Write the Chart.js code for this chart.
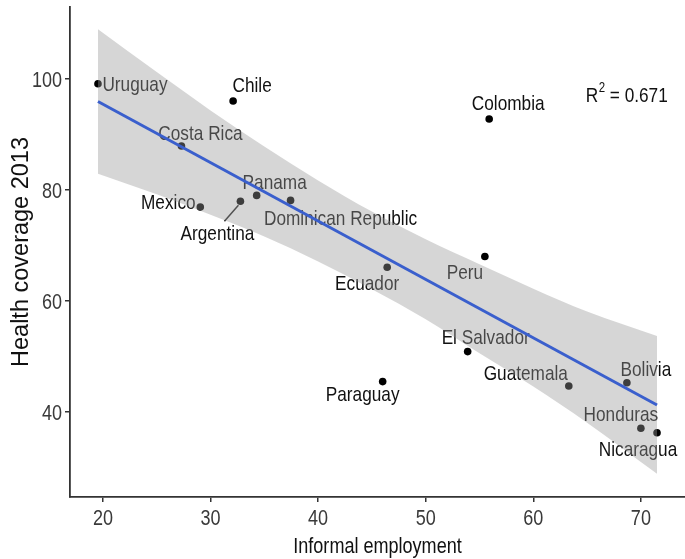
<!DOCTYPE html>
<html>
<head>
<meta charset="utf-8">
<script src="https://cdn.jsdelivr.net/npm/chart.js@4.4.1/dist/chart.umd.min.js"></script>
<style>
html, body { margin: 0; padding: 0; background: #fff; }
</style>
</head>
<body>
<canvas id="chart" width="685" height="559"></canvas>
<script>
const countries = ['Uruguay', 'Chile', 'Colombia', 'Costa Rica', 'Mexico', 'Argentina', 'Panama',
    'Dominican Republic', 'Ecuador', 'Peru', 'El Salvador', 'Paraguay', 'Guatemala', 'Bolivia',
    'Honduras', 'Nicaragua'];
const informal = [19.54, 32.1, 55.9, 27.3, 29.05, 32.78, 34.29, 37.44, 46.42, 55.5, 53.9, 46.0, 63.3, 68.7, 70.0, 71.5];
const coverage = [99.1, 96.0, 92.75, 87.9, 76.9, 77.95, 79.0, 78.1, 66.07, 68.0, 50.9, 45.5, 44.7, 45.3, 37.1, 36.3];

// fitted line (ends) and confidence band
const fitX = [19.54, 71.5];
const fitY = [95.9, 41.3];
const bandX = [19.54, 25, 30, 35, 40, 45, 50, 55, 60, 65, 71.5];
const bandUpper = [108.9, 101.2, 94.3, 87.8, 81.7, 76.1, 71.1, 66.6, 62.2, 58.1, 53.7];
const bandLower = [82.9, 79.2, 75.5, 71.6, 67.1, 62.1, 56.7, 50.6, 44.6, 38.1, 28.9];

const xTicks = [20, 30, 40, 50, 60, 70];
const yTicks = [40, 60, 80, 100];
const xTitle = 'Informal employment';
const yTitle = 'Health coverage 2013';
const r2Value = '0.671';

const FONT = '"Liberation Sans", Arial, sans-serif';
const SQUEEZE = 0.82; // the original type is tall and narrow

// where each name sits, pixel offset of the text centre from its point
const labelOffsets = [
    [37, 2], [19, -15], [19, -15], [19, -12], [-32, -4], [-23, 33], [18, -12],
    [50, 19], [-20, 17], [-20, 17], [18, -13], [-20, 14], [-43, -12], [19, -13],
    [-20, -13], [-19, 17]
];
const argentinaSegment = [[-2, 4], [-16, 20]];
const r2Pos = { x: 68.66, y: 97.3 };

function squeezeText(ctx, text, x, y, size, color, align, baseline, rotate, squeeze) {
    ctx.save();
    ctx.translate(x, y);
    if (rotate) ctx.rotate(rotate);
    const sq = squeeze === undefined ? SQUEEZE : squeeze;
    ctx.scale(sq, 1);
    ctx.font = size + 'px ' + FONT;
    ctx.fillStyle = color;
    ctx.textAlign = align;
    ctx.textBaseline = baseline;
    ctx.fillText(text, 0, 0);
    ctx.restore();
}

function textWidth(ctx, text, size) {
    ctx.font = size + 'px ' + FONT;
    return ctx.measureText(text).width * SQUEEZE;
}

const labelPlugin = {
    id: 'pointLabels',
    beforeDatasetsDraw(chart) {
        const ctx = chart.ctx;
        const xs = chart.scales.x;
        const ys = chart.scales.y;
        countries.forEach((name, i) => {
            const px = xs.getPixelForValue(informal[i]);
            const py = ys.getPixelForValue(coverage[i]);
            squeezeText(ctx, name, px + labelOffsets[i][0], py + labelOffsets[i][1], 21, '#111', 'center', 'middle');
        });
        // connector for Argentina
        const ai = countries.indexOf('Argentina');
        const ax = xs.getPixelForValue(informal[ai]);
        const ay = ys.getPixelForValue(coverage[ai]);
        ctx.save();
        ctx.strokeStyle = '#222';
        ctx.lineWidth = 1.5;
        ctx.beginPath();
        ctx.moveTo(ax + argentinaSegment[0][0], ay + argentinaSegment[0][1]);
        ctx.lineTo(ax + argentinaSegment[1][0], ay + argentinaSegment[1][1]);
        ctx.stroke();
        ctx.restore();
    },
    afterDraw(chart) {
        const ctx = chart.ctx;
        const xs = chart.scales.x;
        const ys = chart.scales.y;
        const area = chart.chartArea;

        // tick labels
        xTicks.forEach(v => {
            squeezeText(ctx, String(v), xs.getPixelForValue(v), area.bottom + 28, 22, '#3a3a3a', 'center', 'alphabetic');
        });
        yTicks.forEach(v => {
            squeezeText(ctx, String(v), area.left - 8, ys.getPixelForValue(v) + 8, 22, '#3a3a3a', 'right', 'alphabetic');
        });

        // axis titles
        squeezeText(ctx, xTitle, (area.left + area.right) / 2, 553, 22, '#111', 'center', 'alphabetic');
        squeezeText(ctx, yTitle, 28, (area.top + area.bottom) / 2, 23.5, '#111', 'center', 'alphabetic', -Math.PI / 2, 1);

        // R squared note
        const cx = xs.getPixelForValue(r2Pos.x);
        const base = ys.getPixelForValue(r2Pos.y) + 8;
        const rest = ' = ' + r2Value;
        const wR = textWidth(ctx, 'R', 21);
        const w2 = textWidth(ctx, '2', 14);
        const wRest = textWidth(ctx, rest, 21);
        let x = cx - (wR + w2 + wRest) / 2;
        squeezeText(ctx, 'R', x, base, 21, '#111', 'left', 'alphabetic');
        x += wR + 0.5;
        squeezeText(ctx, '2', x, base - 10, 14, '#111', 'left', 'alphabetic');
        x += w2;
        squeezeText(ctx, rest, x, base, 21, '#111', 'left', 'alphabetic');
    }
};

new Chart(document.getElementById('chart'), {
    type: 'scatter',
    data: {
        datasets: [{
            label: 'countries',
            data: informal.map((x, i) => ({ x: x, y: coverage[i] })),
            backgroundColor: '#000',
            borderWidth: 0,
            pointRadius: 3.8,
            order: 3
        }, {
            label: 'upper',
            type: 'line',
            data: bandX.map((x, i) => ({ x: x, y: bandUpper[i] })),
            borderWidth: 0,
            pointRadius: 0,
            fill: '+1',
            backgroundColor: 'rgba(153, 153, 153, 0.4)',
            cubicInterpolationMode: 'monotone',
            order: 2
        }, {
            label: 'lower',
            type: 'line',
            data: bandX.map((x, i) => ({ x: x, y: bandLower[i] })),
            borderWidth: 0,
            pointRadius: 0,
            fill: false,
            cubicInterpolationMode: 'monotone',
            order: 2
        }, {
            label: 'fit',
            type: 'line',
            data: fitX.map((x, i) => ({ x: x, y: fitY[i] })),
            borderColor: '#3a5fcd',
            borderWidth: 3,
            pointRadius: 0,
            fill: false,
            order: 1
        }]
    },
    options: {
        responsive: false,
        animation: false,
        layout: { autoPadding: false, padding: { top: 7, right: 0, left: 0, bottom: 0 } },
        plugins: {
            legend: { display: false },
            tooltip: { enabled: false }
        },
        scales: {
            x: {
                type: 'linear',
                min: 16.94,
                max: 74.1,
                afterBuildTicks: s => { s.ticks = xTicks.map(v => ({ value: v })); },
                afterFit: s => { s.height = 62; },
                grid: { display: true, drawOnChartArea: false, drawTicks: true, tickLength: 5, color: '#333', lineWidth: 1.5 },
                border: { display: true, color: '#333', width: 1.8 },
                ticks: { display: false }
            },
            y: {
                type: 'linear',
                min: 24.74,
                max: 112.9,
                afterBuildTicks: s => { s.ticks = yTicks.map(v => ({ value: v })); },
                afterFit: s => { s.width = 70; },
                grid: { display: true, drawOnChartArea: false, drawTicks: true, tickLength: 5, color: '#333', lineWidth: 1.5 },
                border: { display: true, color: '#333', width: 1.8 },
                ticks: { display: false }
            }
        }
    },
    plugins: [labelPlugin]
});
</script>
</body>
</html>
